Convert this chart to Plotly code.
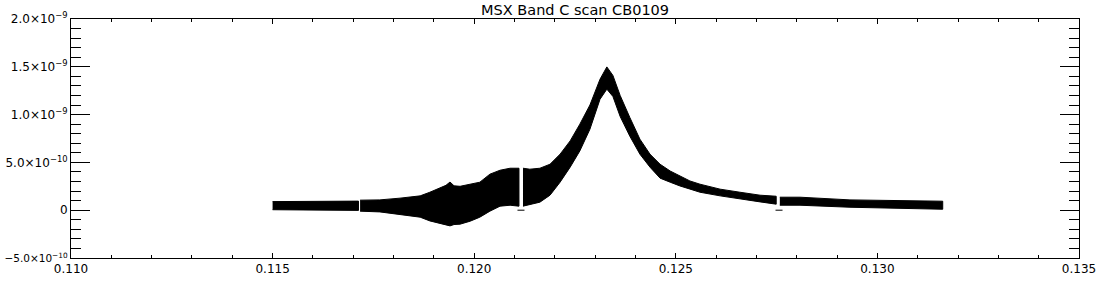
import plotly.graph_objects as go

# ---- data (wavelength, flux envelope of overlaid scans) ----
seg1_x  = [0.11500, 0.11600, 0.11700, 0.11713]
seg1_hi = [0.90e-10, 0.92e-10, 0.95e-10, 0.95e-10]
seg1_lo = [0.05e-10, 0.02e-10, -0.02e-10, -0.02e-10]

seg2_x  = [0.11717, 0.11766, 0.11816, 0.11866, 0.11890, 0.11915, 0.11930, 0.11940, 0.11950,
           0.11965, 0.11990, 0.12014, 0.12039, 0.12064, 0.12089, 0.12111]
seg2_hi = [1.05e-10, 1.08e-10, 1.26e-10, 1.50e-10, 1.88e-10, 2.30e-10, 2.60e-10, 2.95e-10, 2.55e-10,
           2.50e-10, 2.72e-10, 2.93e-10, 3.77e-10, 4.18e-10, 4.39e-10, 4.39e-10]
seg2_lo = [-0.10e-10, -0.18e-10, -0.42e-10, -0.73e-10, -1.12e-10, -1.40e-10, -1.55e-10, -1.64e-10, -1.50e-10,
           -1.46e-10, -1.15e-10, -0.73e-10, -0.10e-10, 0.42e-10, 0.52e-10, 0.42e-10]

seg3_x  = [0.12121, 0.12138, 0.12163, 0.12188, 0.12213, 0.12238, 0.12262, 0.12287,
           0.12312, 0.12329, 0.12344, 0.12362, 0.12386, 0.12411, 0.12436, 0.12461,
           0.12486, 0.12510, 0.12535, 0.12560, 0.12610, 0.12659, 0.12709, 0.12749]
seg3_hi = [4.39e-10, 4.29e-10, 4.39e-10, 4.81e-10, 5.86e-10, 7.25e-10, 9.00e-10, 11.00e-10,
           13.70e-10, 14.99e-10, 14.10e-10, 12.00e-10, 9.70e-10, 7.43e-10, 5.86e-10, 4.81e-10,
           4.10e-10, 3.59e-10, 3.06e-10, 2.72e-10, 2.20e-10, 1.88e-10, 1.57e-10, 1.46e-10]
seg3_lo = [0.42e-10, 0.63e-10, 0.84e-10, 1.57e-10, 2.93e-10, 4.50e-10, 6.20e-10, 8.47e-10,
           11.60e-10, 12.66e-10, 11.90e-10, 9.80e-10, 7.74e-10, 5.86e-10, 4.50e-10, 3.35e-10,
           2.93e-10, 2.54e-10, 2.20e-10, 1.88e-10, 1.50e-10, 1.15e-10, 0.87e-10, 0.63e-10]

seg4_x  = [0.12758, 0.12808, 0.12932, 0.13056, 0.13162]
seg4_hi = [1.36e-10, 1.36e-10, 1.08e-10, 0.97e-10, 0.94e-10]
seg4_lo = [0.52e-10, 0.52e-10, 0.31e-10, 0.18e-10, 0.10e-10]

mark_x = [0.12116, 0.12756]
mark_y = [0.0, 0.0]

x_ticks = [0.110, 0.115, 0.120, 0.125, 0.130, 0.135]
x_labels = ["0.110", "0.115", "0.120", "0.125", "0.130", "0.135"]
y_ticks = [-5e-10, 0, 5e-10, 1e-9, 1.5e-9, 2e-9]
y_labels = ["<span style='font-size:10.5px'>\u22125.0\u00d710<sup>\u221210</sup></span>", "0",
            "5.0\u00d710<sup>\u221210</sup>",
            "1.0\u00d710<sup>\u22129</sup>", "1.5\u00d710<sup>\u22129</sup>",
            "2.0\u00d710<sup>\u22129</sup>"]
title_text = "MSX Band C scan CB0109"

fig = go.Figure()
for xs, hi, lo in [(seg1_x, seg1_hi, seg1_lo), (seg2_x, seg2_hi, seg2_lo),
                   (seg3_x, seg3_hi, seg3_lo), (seg4_x, seg4_hi, seg4_lo)]:
    fig.add_trace(go.Scatter(
        x=list(xs) + list(xs)[::-1],
        y=list(hi) + list(lo)[::-1],
        mode="lines", fill="toself", fillcolor="black",
        line=dict(color="black", width=1), hoverinfo="skip", showlegend=False))

fig.add_trace(go.Scatter(x=mark_x, y=mark_y, mode="markers",
                         marker=dict(symbol="line-ew", size=5, line=dict(color="black", width=1)),
                         hoverinfo="skip", showlegend=False))

font = dict(family="DejaVu Sans", size=12, color="black")
fig.update_layout(
    width=1100, height=300,
    margin=dict(l=71, r=21, t=19, b=42),
    paper_bgcolor="white", plot_bgcolor="white",
    showlegend=False,
    font=font,
    title=dict(text=title_text, x=0.5228, xanchor="center", y=0.967, yanchor="middle",
               font=dict(family="DejaVu Sans", size=14.5, color="black")),
    xaxis=dict(range=[0.110, 0.135], tickvals=x_ticks, ticktext=x_labels,
               ticks="inside", ticklen=5, tickcolor="black", tickwidth=1,
               showline=True, linecolor="black", linewidth=1, mirror="allticks",
               showgrid=False, zeroline=False, automargin=False,
               minor=dict(ticks="inside", ticklen=3, dtick=0.001, tick0=0.110,
                          tickcolor="black", showgrid=False),
               tickfont=font),
    yaxis=dict(range=[-5e-10, 2e-9], tickvals=y_ticks, ticktext=y_labels,
               ticks="inside", ticklen=19, tickcolor="black", tickwidth=1,
               showline=True, linecolor="black", linewidth=1, mirror="allticks",
               showgrid=False, zeroline=False, automargin=False,
               minor=dict(ticks="inside", ticklen=10, dtick=1e-10, tick0=0,
                          tickcolor="black", showgrid=False),
               tickfont=font),
)

fig.write_html("out.html")
